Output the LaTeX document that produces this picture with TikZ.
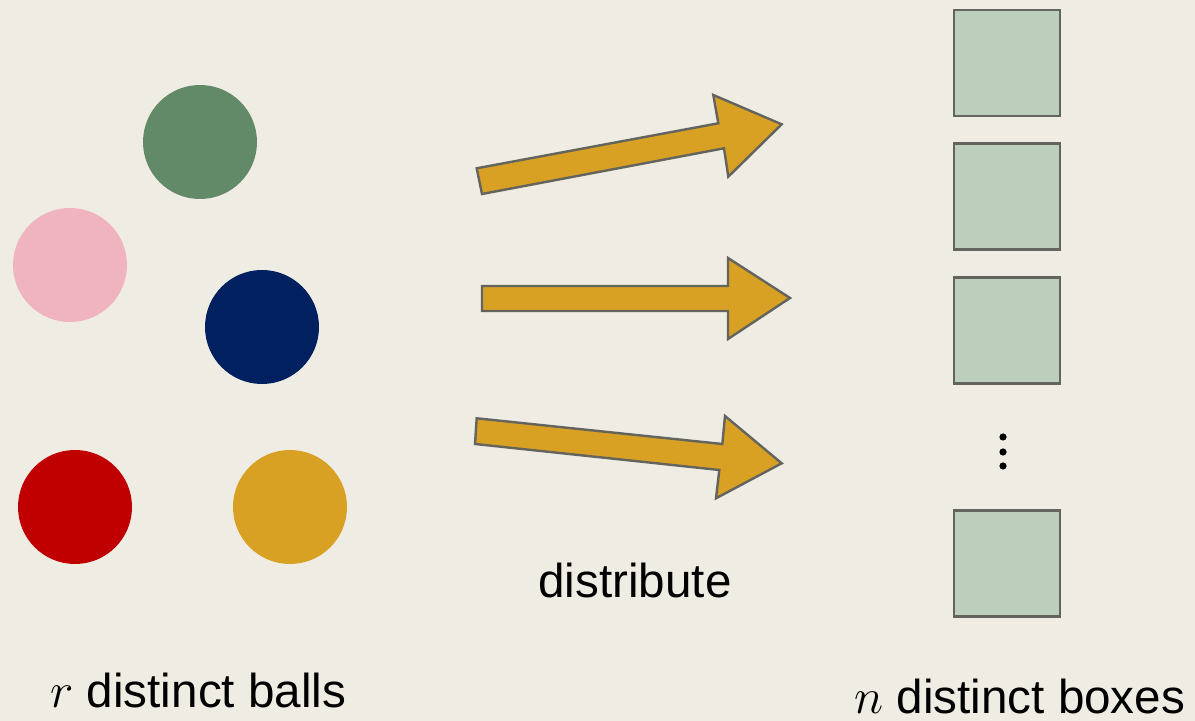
\documentclass[tikz,border=0pt]{standalone}
\usepackage{fontspec}
\setmainfont{Liberation Sans}
\definecolor{bgcol}{RGB}{239,236,228}
\definecolor{ballgreen}{RGB}{99,138,104}
\definecolor{ballpink}{RGB}{239,180,192}
\definecolor{ballnavy}{RGB}{0,32,96}
\definecolor{ballred}{RGB}{192,0,0}
\definecolor{gold}{RGB}{216,161,36}
\definecolor{boxfill}{RGB}{187,207,188}
\definecolor{edgegray}{RGB}{100,100,95}
\begin{document}
\begin{tikzpicture}[x=0.5pt,y=-0.5pt,
  ball/.style={circle,inner sep=0pt,minimum size=57pt,fill=#1},
  binbox/.style={rectangle,inner sep=0pt,minimum size=53pt,fill=boxfill,draw=edgegray,line width=1.4pt},
  blockarrow/.style={fill=gold,draw=edgegray,line width=1.2pt,line join=miter},
  label/.style={inner sep=0pt,font=\fontsize{23.8}{28}\selectfont}]
  \fill[bgcol] (0,0) rectangle (1195,721);
  \useasboundingbox (0,0) rectangle (1195,721);

  % balls
  \node[ball=ballgreen] (g) at (200,142) {};
  \node[ball=ballpink]  (p) at (70,265) {};
  \node[ball=ballnavy]  (b) at (262,327) {};
  \node[ball=ballred]   (r) at (75,507) {};
  \node[ball=gold]      (y) at (290,507) {};

  % boxes
  \node[binbox] (b1) at (1007,63) {};
  \node[binbox] (b2) at (1007,196.5) {};
  \node[binbox] (b3) at (1007,330.5) {};
  \node[binbox] (b4) at (1007,563.5) {};
  \foreach \yy in {437,452,466}
    \fill (1003,\yy) circle (1.8pt);

  % block arrows
  \draw[blockarrow] (482,194) -- (476.7,168.3) -- (718.3,123.3) -- (713.3,95)
    -- (781.7,124.3) -- (728.3,176.7) -- (724,148.3) -- cycle;
  \draw[blockarrow] (482,311) -- (482,286) -- (728,286) -- (728,258)
    -- (790,298) -- (728,339) -- (728,311) -- cycle;
  \draw[blockarrow] (476.7,418.3) -- (475,444) -- (719.3,470) -- (716,498.3)
    -- (781.7,463.3) -- (725,416) -- (722.3,444) -- cycle;

  % labels
  \node[label,anchor=base] (dist) at (635,598) {distribute};
  \node[label,anchor=base west] (lballs) at (50,707) {$r$ distinct balls};
  \node[label,anchor=base west] (lboxes) at (854,713) {$n$ distinct boxes};
\end{tikzpicture}
\end{document}
